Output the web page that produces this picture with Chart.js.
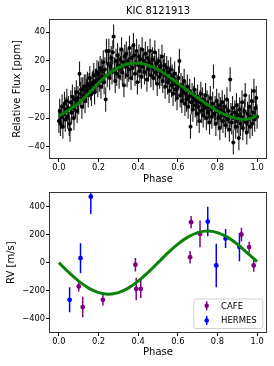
<!DOCTYPE html>
<html><head><meta charset="utf-8">
<script src="https://cdn.jsdelivr.net/npm/chart.js@4.4.1/dist/chart.umd.min.js"></script>
<style>
html,body{margin:0;padding:0;background:#fff;}
#wrap{position:relative;width:274px;height:366px;overflow:hidden;background:#fff;}
canvas{position:absolute;left:0;}
</style></head><body>
<div id="wrap">
<canvas id="c1" width="274" height="185" style="top:0"></canvas>
<canvas id="c2" width="274" height="183" style="top:183px"></canvas>
</div>
<script>
// ---------- DATA ----------
const fluxTitle = 'KIC 8121913';
const fluxPhase = [
0.000,0.004,0.008,0.012,0.016,0.020,0.024,0.028,0.032,0.036,
0.040,0.044,0.048,0.052,0.056,0.060,0.064,0.068,0.072,0.076,
0.080,0.084,0.088,0.092,0.096,0.100,0.104,0.108,0.112,0.116,
0.120,0.124,0.128,0.132,0.136,0.140,0.144,0.148,0.152,0.156,
0.160,0.164,0.168,0.172,0.176,0.180,0.184,0.188,0.192,0.196,
0.200,0.204,0.208,0.212,0.216,0.220,0.224,0.228,0.232,0.236,
0.240,0.244,0.248,0.252,0.256,0.260,0.264,0.268,0.272,0.276,
0.280,0.284,0.288,0.292,0.296,0.300,0.304,0.308,0.312,0.316,
0.320,0.324,0.328,0.332,0.336,0.340,0.344,0.348,0.352,0.356,
0.360,0.364,0.368,0.372,0.376,0.380,0.384,0.388,0.392,0.396,
0.400,0.404,0.408,0.412,0.416,0.420,0.424,0.428,0.432,0.436,
0.440,0.444,0.448,0.452,0.456,0.460,0.464,0.468,0.472,0.476,
0.480,0.484,0.488,0.492,0.496,0.500,0.504,0.508,0.512,0.516,
0.520,0.524,0.528,0.532,0.536,0.540,0.544,0.548,0.552,0.556,
0.560,0.564,0.568,0.572,0.576,0.580,0.584,0.588,0.592,0.596,
0.600,0.604,0.608,0.612,0.616,0.620,0.624,0.628,0.632,0.636,
0.640,0.644,0.648,0.652,0.656,0.660,0.664,0.668,0.672,0.676,
0.680,0.684,0.688,0.692,0.696,0.700,0.704,0.708,0.712,0.716,
0.720,0.724,0.728,0.732,0.736,0.740,0.744,0.748,0.752,0.756,
0.760,0.764,0.768,0.772,0.776,0.780,0.784,0.788,0.792,0.796,
0.800,0.804,0.808,0.812,0.816,0.820,0.824,0.828,0.832,0.836,
0.840,0.844,0.848,0.852,0.856,0.860,0.864,0.868,0.872,0.876,
0.880,0.884,0.888,0.892,0.896,0.900,0.904,0.908,0.912,0.916,
0.920,0.924,0.928,0.932,0.936,0.940,0.944,0.948,0.952,0.956,
0.960,0.964,0.968,0.972,0.976,0.980,0.984,0.988,0.992,0.996,
1.000];
const fluxValue = [
-22,-15,-24,-19,-12,-26,-17,-10,-21,-14,
-8,-19,-13,-24,-28,-9,-16,-5,-13,-20,
-7,-11,-2,-15,-6,-9,11,-3,0,-12,
0,-5,2,-8,2,-1,4,-4,3,8,
1,-3,4,5,10,-2,6,6,12,3,
11,7,15,2,13,9,19,5,14,-7,
27,10,18,27,8,16,22,12,26,37,
14,6,20,11,24,17,9,21,15,28,
12,19,3,23,16,25,10,20,14,29,
18,8,22,15,31,24,11,19,27,5,
17,23,13,21,9,28,16,20,12,25,
18,7,22,14,19,27,10,17,21,8,
15,26,12,18,4,14,20,9,16,11,
23,6,13,17,2,10,15,5,12,-1,
8,14,3,9,-3,6,11,0,4,-6,
2,8,20,-4,3,-8,1,-2,6,-10,
-3,-7,2,-12,-5,-1,-26,-9,-4,-14,
-6,0,-11,-8,-17,-5,-12,-22,-9,-3,
-15,-7,-18,-11,-13,-4,-20,-9,-16,-12,
-23,-6,-14,-19,-10,9,-17,-13,-24,-8,
-15,-20,-11,-27,-14,-18,-9,-22,-16,-12,
-25,-19,-7,-21,-15,-28,7,-18,-23,-13,
-37,-20,-16,-26,-11,-22,-18,-34,-14,-24,
-19,-9,-27,-21,-15,-4,-23,-30,-17,-21,
-12,-26,-19,-8,-24,-16,-1,-21,-13,-6,
-19];
const fluxError = 8.5;
const fluxModelPhase = [0,0.05,0.1,0.15,0.2,0.25,0.3,0.35,0.4,0.45,0.5,0.55,0.6,0.65,0.7,0.75,0.8,0.85,0.9,0.95,1.0];
const fluxModel = [-18.5,-14.3,-9.5,-2.8,4.5,10.8,15.3,18,18.6,17,14,9.5,4.3,-0.8,-5.8,-10.6,-15,-18.3,-20.4,-20.8,-18.2];

const cafePhase = [0.100,0.120,0.222,0.386,0.390,0.413,0.662,0.667,0.712,0.921,0.960,0.983];
const cafeRV    = [-170,-317,-265,-15,-188,-188,39,289,205,201,111,-20];
const cafeErr   = [36,73,40,48,80,65,45,43,95,48,38,45];
const hermesPhase = [0.054,0.109,0.161,0.751,0.794,0.841,0.911];
const hermesRV    = [-265,32,471,293,-20,172,111];
const hermesErr   = [89,107,123,105,155,68,101];
const rvModelPhase = [0,0.05,0.1,0.15,0.2,0.25,0.3,0.35,0.4,0.45,0.5,0.55,0.6,0.65,0.7,0.75,0.8,0.85,0.9,0.95,1.0];
const rvModel = [0,-70,-132,-182,-214,-225,-214,-182,-132,-70,0,70,132,182,214,225,214,182,132,70,8];

const phaseTicks = [0,0.2,0.4,0.6,0.8,1.0];
const fluxTicks = [-40,-20,0,20,40];
const rvTicks = [-400,-200,0,200,400];

// ---------- HELPERS ----------
const FONT = "'DejaVu Sans', sans-serif";
const GREEN = '#088208';
const fmtNum = v => (v < 0 ? '\u2212' : '') + Math.abs(v);
const pts = (xs, ys) => xs.map((x, i) => ({x, y: ys[i]}));
function errSegs(xs, ys, errFn) {
  const out = [];
  xs.forEach((x, i) => {
    const e = errFn(i);
    out.push({x, y: ys[i] - e}, {x, y: ys[i] + e}, {x, y: null});
  });
  return out;
}
const frame = {
  id: 'frame',
  afterDatasetsDraw(chart) {
    const {ctx, chartArea: a} = chart;
    ctx.save();
    ctx.strokeStyle = '#333';
    ctx.lineWidth = 1;
    ctx.strokeRect(Math.round(a.left) + 0.5, Math.round(a.top) + 0.5,
                   Math.round(a.right - a.left) - 1, Math.round(a.bottom - a.top) - 1);
    ctx.restore();
  }
};
const axTitle = {
  id: 'axTitle',
  afterDraw(chart, args, opts) {
    if (!opts || !opts.text) return;
    const {ctx, chartArea: a} = chart;
    ctx.save();
    ctx.fillStyle = '#000';
    ctx.font = '10px ' + FONT;
    ctx.textAlign = 'center';
    ctx.textBaseline = 'middle';
    ctx.fillText(opts.text, (a.left + a.right) / 2, opts.y);
    ctx.restore();
  }
};
const legendBox = {
  id: 'legendBox',
  afterDraw(chart) {
    const items = chart.data.datasets.filter(d => d.inLegend);
    const {ctx, chartArea: a} = chart;
    const w = 69, h = 29.5;
    const bx = a.right - 4.7 - w, by = a.bottom - 5 - h;
    ctx.save();
    ctx.beginPath();
    if (ctx.roundRect) ctx.roundRect(bx + 0.5, by + 0.5, w, h, 2); else ctx.rect(bx + 0.5, by + 0.5, w, h);
    ctx.fillStyle = 'rgba(255,255,255,0.8)';
    ctx.fill();
    ctx.strokeStyle = '#d0d0d0';
    ctx.lineWidth = 1;
    ctx.stroke();
    items.forEach((d, i) => {
      const cy = by + 7.3 + i * 14.7;
      const mx = bx + 13.4;
      ctx.strokeStyle = d.backgroundColor;
      ctx.lineWidth = 1.5;
      ctx.beginPath();
      ctx.moveTo(mx, cy - 4.5); ctx.lineTo(mx, cy + 4.5); ctx.stroke();
      ctx.fillStyle = d.backgroundColor;
      ctx.beginPath(); ctx.arc(mx, cy, 2.3, 0, Math.PI * 2); ctx.fill();
      ctx.fillStyle = '#000';
      ctx.font = '8.5px ' + FONT;
      ctx.textBaseline = 'middle';
      ctx.textAlign = 'left';
      ctx.fillText(d.label, bx + 27.7, cy + 0.5);
    });
    ctx.restore();
  }
};
function xScale(heightPx, titlePadBottom) {
  return {
    type: 'linear', min: -0.05, max: 1.05,
    afterBuildTicks: s => { s.ticks = phaseTicks.map(v => ({value: v})); },
    afterFit: s => { s.height = heightPx; },
    ticks: {font: {family: FONT, size: 8.3}, color: '#000', padding: 1, maxRotation: 0, autoSkip: false,
            callback: v => Number(v).toFixed(1)},
    grid: {drawOnChartArea: false, drawTicks: true, tickLength: 3, color: '#000', lineWidth: 1},
    border: {display: false},
    title: {display: true, text: 'Phase', font: {family: FONT, size: 10}, color: '#000',
            padding: {top: 0, bottom: titlePadBottom}}
  };
}
function yScale(min, max, ticks, label, titlePadTop) {
  return {
    type: 'linear', min, max,
    afterBuildTicks: s => { s.ticks = ticks.map(v => ({value: v})); },
    afterFit: s => { s.width = 49; },
    ticks: {font: {family: FONT, size: 8.3}, color: '#000', padding: 1, autoSkip: false,
            callback: v => fmtNum(v)},
    grid: {drawOnChartArea: false, drawTicks: true, tickLength: 3, color: '#000', lineWidth: 1},
    border: {display: false},
    title: {display: true, text: label, font: {family: FONT, size: 10}, color: '#000',
            padding: {top: titlePadTop, bottom: 0}}
  };
}

// ---------- TOP: light curve ----------
new Chart(document.getElementById('c1'), {
  type: 'scatter',
  data: {datasets: [
    {data: pts(fluxModelPhase, fluxModel), showLine: true, borderColor: GREEN, borderWidth: 3,
     pointRadius: 0, cubicInterpolationMode: 'monotone', order: 0, clip: 0},
    {data: pts(fluxPhase, fluxValue), backgroundColor: '#000', borderWidth: 0, pointRadius: 2, order: 1, clip: 0},
    {data: errSegs(fluxPhase, fluxValue, () => fluxError), showLine: true, borderColor: 'rgba(0,0,0,0.9)',
     borderWidth: 1.1, pointRadius: 0, order: 2, clip: 0}
  ]},
  options: {
    responsive: false, animation: false, events: [],
    layout: {padding: {left: 0, right: 7, top: 19, bottom: 0}},
    plugins: {legend: {display: false}, tooltip: {enabled: false}, title: {display: false},
              axTitle: {text: fluxTitle, y: 11.5}},
    scales: {x: xScale(26, 0), y: yScale(-48.6, 49.3, fluxTicks, 'Relative Flux [ppm]', 11.7)}
  },
  plugins: [frame, axTitle]
});

// ---------- BOTTOM: radial velocities ----------
new Chart(document.getElementById('c2'), {
  type: 'scatter',
  data: {datasets: [
    {data: pts(rvModelPhase, rvModel), showLine: true, borderColor: GREEN, borderWidth: 3,
     pointRadius: 0, cubicInterpolationMode: 'monotone', order: 0, clip: 0},
    {label: 'CAFE', inLegend: true, data: pts(cafePhase, cafeRV), backgroundColor: '#800080', borderWidth: 0,
     pointRadius: 2.4, order: 1, clip: 0},
    {label: 'HERMES', inLegend: true, data: pts(hermesPhase, hermesRV), backgroundColor: '#0000ff', borderWidth: 0,
     pointRadius: 2.4, order: 1, clip: 0},
    {data: errSegs(cafePhase, cafeRV, i => cafeErr[i]), showLine: true, borderColor: '#800080',
     borderWidth: 1.5, pointRadius: 0, order: 2, clip: 0},
    {data: errSegs(hermesPhase, hermesRV, i => hermesErr[i]), showLine: true, borderColor: '#0000ff',
     borderWidth: 1.5, pointRadius: 0, order: 2, clip: 0}
  ]},
  options: {
    responsive: false, animation: false, events: [],
    layout: {padding: {left: 0, right: 7, top: 9.3, bottom: 0}},
    plugins: {legend: {display: false}, tooltip: {enabled: false}},
    scales: {x: xScale(33, 8), y: yScale(-502, 502, rvTicks, 'RV [m/s]', 5.7)}
  },
  plugins: [frame, legendBox]
});
</script>
</body></html>
